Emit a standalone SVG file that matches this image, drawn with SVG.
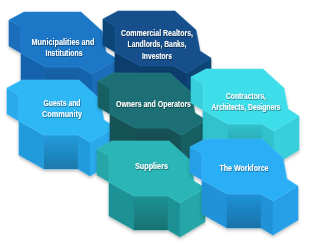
<svg xmlns="http://www.w3.org/2000/svg" width="310" height="246" viewBox="0 0 310 246">
<defs>
<linearGradient id="shade" x1="0" y1="0" x2="0" y2="1">
<stop offset="0" stop-color="#000" stop-opacity="0"/>
<stop offset="1" stop-color="#000" stop-opacity="0.22"/>
</linearGradient>
<filter id="ds" x="-20%" y="-20%" width="140%" height="150%">
<feDropShadow dx="0" dy="2" stdDeviation="1.5" flood-color="#000" flood-opacity="0.25"/>
</filter>
<filter id="ts" x="-10%" y="-30%" width="120%" height="160%">
<feDropShadow dx="0.5" dy="0.8" stdDeviation="0.6" flood-color="#000" flood-opacity="0.55"/>
</filter>
</defs>
<style>
.piece polygon{stroke-width:0.6;stroke-linejoin:round}
.sh{fill:url(#shade);stroke:none}
text{font-family:"Liberation Sans",Arial,sans-serif;font-size:9.6px;font-weight:bold;fill:#fff;text-anchor:middle;filter:url(#ts)}
#muni .t{fill:#1c77c7;stroke:#2a86d6}#muni .s{fill:#1a6dba;stroke:#1a6dba}#muni .f{fill:#1664ad;stroke:#1664ad}
#comm .t{fill:#124f8b;stroke:#1b5d9c}#comm .s{fill:#0f4477;stroke:#0f4477}#comm .f{fill:#0d3d6c;stroke:#0d3d6c}
#cont .t{fill:#3edde9;stroke:#55e6ef}#cont .s{fill:#37cfdb;stroke:#37cfdb}#cont .f{fill:#30c2ce;stroke:#30c2ce}
#guest .t{fill:#2db7f5;stroke:#45c2f8}#guest .s{fill:#29a9ec;stroke:#29a9ec}#guest .f{fill:#239bdc;stroke:#239bdc}
#owner .t{fill:#1d7075;stroke:#237d82}#owner .s{fill:#185f64;stroke:#185f64}#owner .f{fill:#145357;stroke:#145357}
#supp .t{fill:#2ab6b6;stroke:#3cc2c2}#supp .s{fill:#26a6a7;stroke:#26a6a7}#supp .f{fill:#1f9294;stroke:#1f9294}
#work .t{fill:#2baef6;stroke:#45bbf8}#work .s{fill:#269fe8;stroke:#269fe8}#work .f{fill:#2092d8;stroke:#2092d8}
</style>
<g id="connectors"></g>

<g id="muni" class="piece" filter="url(#ds)" transform="translate(24,12)">
<polygon class="s" points="-15,8 -3,15 -3,41 -15,34"/>
<polygon class="f" points="-3,41 22,55 22,89 -3,75"/>
<polygon class="f" points="22,55 56,55 56,89 22,89"/><polygon class="sh" points="22,55 56,55 56,89 22,89"/>
<polygon class="f" points="56,55 68,62 68,96 56,89"/>
<polygon class="s" points="68,62 93,47 93,81 68,96"/>
<polygon class="t" points="0,0 57,0 78,19 82,40 93,47 68,62 56,55 22,55 -3,41 -3,15 -15,8"/>
</g>

<g id="comm" class="piece" filter="url(#ds)" transform="translate(118,11)">
<polygon class="s" points="-15,8 -3,15 -3,41 -15,34"/>
<polygon class="f" points="-3,41 22,55 22,89 -3,75"/>
<polygon class="f" points="22,55 56,55 56,89 22,89"/><polygon class="sh" points="22,55 56,55 56,89 22,89"/>
<polygon class="f" points="56,55 68,62 68,96 56,89"/>
<polygon class="s" points="68,62 93,47 93,81 68,96"/>
<polygon class="t" points="0,0 57,0 78,19 82,40 93,47 68,62 56,55 22,55 -3,41 -3,15 -15,8"/>
</g>

<g id="guest" class="piece" filter="url(#ds)" transform="translate(22,80)">
<polygon class="s" points="-15,8 -3,15 -3,41 -15,34"/>
<polygon class="f" points="-3,41 22,55 22,89 -3,75"/>
<polygon class="f" points="22,55 56,55 56,89 22,89"/><polygon class="sh" points="22,55 56,55 56,89 22,89"/>
<polygon class="f" points="56,55 68,62 68,96 56,89"/>
<polygon class="s" points="68,62 93,47 93,81 68,96"/>
<polygon class="t" points="0,0 57,0 78,19 82,40 93,47 68,62 56,55 22,55 -3,41 -3,15 -15,8"/>
</g>

<g id="owner" class="piece" filter="url(#ds)" transform="translate(113,73)">
<polygon class="s" points="-15,8 -3,15 -3,41 -15,34"/>
<polygon class="f" points="-3,41 22,55 22,89 -3,75"/>
<polygon class="f" points="22,55 56,55 56,89 22,89"/><polygon class="sh" points="22,55 56,55 56,89 22,89"/>
<polygon class="f" points="56,55 68,62 68,96 56,89"/>
<polygon class="s" points="68,62 93,47 93,81 68,96"/>
<polygon class="t" points="0,0 57,0 78,19 82,40 93,47 68,62 56,55 22,55 -3,41 -3,15 -15,8"/>
</g>

<g id="cont" class="piece" filter="url(#ds)" transform="translate(206,69)">
<polygon class="s" points="-15,8 -3,15 -3,41 -15,34"/>
<polygon class="f" points="-3,41 22,55 22,89 -3,75"/>
<polygon class="f" points="22,55 56,55 56,89 22,89"/><polygon class="sh" points="22,55 56,55 56,89 22,89"/>
<polygon class="f" points="56,55 68,62 68,96 56,89"/>
<polygon class="s" points="68,62 93,47 93,81 68,96"/>
<polygon class="t" points="0,0 57,0 78,19 82,40 93,47 68,62 56,55 22,55 -3,41 -3,15 -15,8"/>
</g>

<g id="supp" class="piece" filter="url(#ds)" transform="translate(112,141)">
<polygon class="s" points="-15,8 -3,15 -3,41 -15,34"/>
<polygon class="f" points="-3,41 22,55 22,89 -3,75"/>
<polygon class="f" points="22,55 56,55 56,89 22,89"/><polygon class="sh" points="22,55 56,55 56,89 22,89"/>
<polygon class="f" points="56,55 68,62 68,96 56,89"/>
<polygon class="s" points="68,62 93,47 93,81 68,96"/>
<polygon class="t" points="0,0 57,0 78,19 82,40 93,47 68,62 56,55 22,55 -3,41 -3,15 -15,8"/>
</g>

<g id="work" class="piece" filter="url(#ds)" transform="translate(205,139)">
<polygon class="s" points="-15,8 -3,15 -3,41 -15,34"/>
<polygon class="f" points="-3,41 22,55 22,89 -3,75"/>
<polygon class="f" points="22,55 56,55 56,89 22,89"/><polygon class="sh" points="22,55 56,55 56,89 22,89"/>
<polygon class="f" points="56,55 68,62 68,96 56,89"/>
<polygon class="s" points="68,62 93,47 93,81 68,96"/>
<polygon class="t" points="0,0 57,0 78,19 82,40 93,47 68,62 56,55 22,55 -3,41 -3,15 -15,8"/>
</g>

<g id="labels">
<text x="63" y="44.5" textLength="63" lengthAdjust="spacingAndGlyphs">Municipalities and</text>
<text x="64" y="55.5" textLength="37" lengthAdjust="spacingAndGlyphs">Institutions</text>
<text x="157" y="36" textLength="72" lengthAdjust="spacingAndGlyphs">Commercial Realtors,</text>
<text x="157" y="47" textLength="59" lengthAdjust="spacingAndGlyphs">Landlords, Banks,</text>
<text x="157" y="58.5" textLength="30" lengthAdjust="spacingAndGlyphs">Investors</text>
<text x="246" y="99" textLength="40" lengthAdjust="spacingAndGlyphs">Contractors,</text>
<text x="246" y="110" textLength="69" lengthAdjust="spacingAndGlyphs">Architects, Designers</text>
<text x="62" y="105.7" textLength="37" lengthAdjust="spacingAndGlyphs">Guests and</text>
<text x="62" y="116.7" textLength="40" lengthAdjust="spacingAndGlyphs">Community</text>
<text x="153.5" y="106.7" textLength="75" lengthAdjust="spacingAndGlyphs">Owners and Operators</text>
<text x="151.5" y="169" textLength="33" lengthAdjust="spacingAndGlyphs">Suppliers</text>
<text x="244" y="171" textLength="49" lengthAdjust="spacingAndGlyphs">The Workforce</text>
</g>
</svg>
